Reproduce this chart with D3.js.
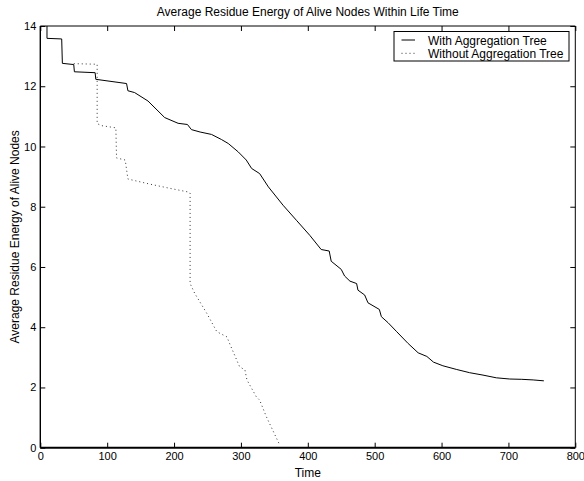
<!DOCTYPE html>
<html>
<head>
<meta charset="utf-8">
<script src="https://cdn.jsdelivr.net/npm/d3@7"></script>
<style>
  body { margin: 0; background: #fff; }
  svg { display: block; font-family: "Liberation Sans", Arial, Helvetica, sans-serif; }
</style>
</head>
<body>
<div id="chart"></div>
<script>
// series
const timeWith = [10, 10, 32, 33, 50, 51, 82, 83, 129, 131, 141, 161, 186, 206, 220, 226, 239, 256, 271, 281, 296, 308, 316, 328, 341, 363, 383, 403, 420, 432, 435, 450, 455, 463, 473, 475, 485, 490, 507, 510, 520, 533, 550, 565, 578, 588, 602, 622, 642, 662, 682, 702, 720, 737, 753];
const energyWith = [14, 13.59, 13.57, 12.76, 12.72, 12.48, 12.45, 12.23, 12.09, 11.85, 11.79, 11.51, 10.96, 10.77, 10.73, 10.56, 10.48, 10.40, 10.23, 10.10, 9.82, 9.55, 9.27, 9.10, 8.66, 8.05, 7.55, 7.05, 6.58, 6.53, 6.19, 5.92, 5.70, 5.53, 5.45, 5.23, 5.07, 4.81, 4.59, 4.35, 4.15, 3.85, 3.46, 3.15, 3.03, 2.84, 2.72, 2.60, 2.49, 2.41, 2.32, 2.28, 2.27, 2.25, 2.22];

const timeWithout = [50, 85, 85, 92, 113, 114, 127, 131, 164, 194, 221, 224, 224, 231, 249, 264, 279, 284, 298, 306, 309, 323, 328, 338, 358];
const energyWithout = [12.75, 12.73, 10.76, 10.69, 10.62, 9.62, 9.55, 8.92, 8.75, 8.61, 8.49, 8.45, 5.45, 5.12, 4.46, 3.85, 3.68, 3.41, 2.69, 2.58, 2.25, 1.69, 1.58, 1.03, 0.09];

const xTicks = [0, 100, 200, 300, 400, 500, 600, 700, 800];
const yTicks = [0, 2, 4, 6, 8, 10, 12, 14];
const seriesNames = ["With Aggregation Tree", "Without Aggregation Tree"];

const W = 584, H = 481;
const margin = { top: 26, right: 8.7, bottom: 33.3, left: 40.3 };
const width = W - margin.left - margin.right;
const height = H - margin.top - margin.bottom;

const svg = d3.select('#chart').append('svg')
  .attr('width', W)
  .attr('height', H);

const g = svg.append('g')
  .attr('transform', `translate(${margin.left},${margin.top})`);

const x = d3.scaleLinear().domain([0, 800]).range([0, width]);
const y = d3.scaleLinear().domain([0, 14]).range([height, 0]);

// axes, ticks point inward like the original
const styleAxis = sel => {
  sel.select('.domain').remove();
  sel.selectAll('line').attr('stroke', '#000').attr('stroke-width', 1);
  sel.selectAll('text').attr('fill', '#000').style('font-size', '11px');
};

g.append('g')
  .attr('transform', `translate(0,${height})`)
  .call(d3.axisBottom(x).tickValues(xTicks).tickSizeInner(-5).tickSizeOuter(0).tickPadding(5))
  .call(styleAxis);

g.append('g')
  .call(d3.axisLeft(y).tickValues(yTicks).tickSizeInner(-5).tickSizeOuter(0).tickPadding(4))
  .call(styleAxis);

g.append('g')
  .call(d3.axisTop(x).tickValues(xTicks).tickSizeInner(-5).tickSizeOuter(0).tickFormat(''))
  .call(styleAxis);

g.append('g')
  .attr('transform', `translate(${width},0)`)
  .call(d3.axisRight(y).tickValues(yTicks).tickSizeInner(-5).tickSizeOuter(0).tickFormat(''))
  .call(styleAxis);

// box
g.append('line').attr('x1', 0).attr('x2', width).attr('y1', 0).attr('y2', 0).attr('stroke', '#000').attr('stroke-width', 1);
g.append('line').attr('x1', width).attr('x2', width).attr('y1', 0).attr('y2', height).attr('stroke', '#000').attr('stroke-width', 1);
g.append('line').attr('x1', 0).attr('x2', 0).attr('y1', 0).attr('y2', height).attr('stroke', '#000').attr('stroke-width', 1.4);
g.append('line').attr('x1', 0).attr('x2', width).attr('y1', height).attr('y2', height).attr('stroke', '#000').attr('stroke-width', 2);

const line = d3.line()
  .x(d => x(d[0]))
  .y(d => y(d[1]));

g.append('path')
  .datum(d3.zip(timeWithout, energyWithout))
  .attr('d', line)
  .attr('fill', 'none')
  .attr('stroke', '#333')
  .attr('stroke-width', 1)
  .attr('stroke-dasharray', '1,3');

g.append('path')
  .datum(d3.zip(timeWith, energyWith))
  .attr('d', line)
  .attr('fill', 'none')
  .attr('stroke', '#000')
  .attr('stroke-width', 1);

// title and labels
svg.append('text')
  .attr('x', margin.left + width / 2)
  .attr('y', 16)
  .attr('text-anchor', 'middle')
  .style('font-size', '12px')
  .text('Average Residue Energy of Alive Nodes Within Life Time');

svg.append('text')
  .attr('x', margin.left + width / 2)
  .attr('y', 477)
  .attr('text-anchor', 'middle')
  .style('font-size', '12px')
  .text('Time');

svg.append('text')
  .attr('transform', `translate(19,${margin.top + height / 2}) rotate(-90)`)
  .attr('text-anchor', 'middle')
  .style('font-size', '12px')
  .text('Average Residue Energy of Alive Nodes');

// legend
const legend = svg.append('g').attr('transform', 'translate(394,31.5)');
legend.append('rect')
  .attr('width', 175).attr('height', 29.5)
  .attr('fill', '#fff').attr('stroke', '#000').attr('stroke-width', 1);

const dashes = [null, '1,3'];
seriesNames.forEach((name, i) => {
  const ly = 8.5 + i * 13.3;
  legend.append('line')
    .attr('x1', 7.5).attr('x2', 21)
    .attr('y1', ly).attr('y2', ly)
    .attr('stroke', i === 0 ? '#000' : '#333')
    .attr('stroke-width', 1)
    .attr('stroke-dasharray', dashes[i]);
  legend.append('text')
    .attr('x', 34).attr('y', ly + 4.5)
    .style('font-size', '12px')
    .text(name);
});
</script>
</body>
</html>
